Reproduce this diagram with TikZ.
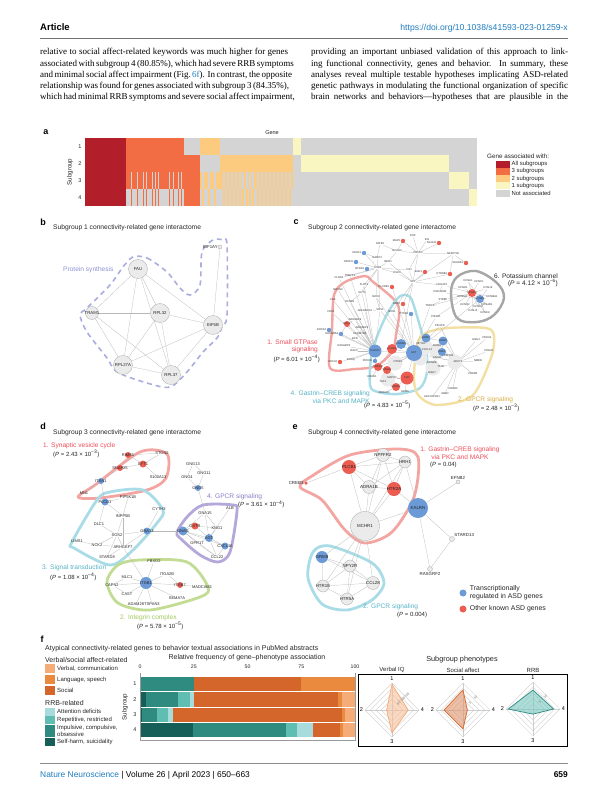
\documentclass[tikz,border=0pt]{standalone}
\usepackage{fontspec}
\setmainfont{Liberation Serif}
\setsansfont{Liberation Sans}
\usepackage{xcolor}
\usepackage{tikz}
\usetikzlibrary{positioning,backgrounds}
\definecolor{allsub}{HTML}{B21F2B}
\definecolor{threesub}{HTML}{F26D44}
\definecolor{twosub}{HTML}{FDCB7F}
\definecolor{onesub}{HTML}{FAF6C2}
\definecolor{notsub}{HTML}{D4D4D4}
\definecolor{asdblue}{HTML}{6B9AD6}
\definecolor{asdred}{HTML}{EC5C51}
\definecolor{linkblue}{HTML}{1F7DC1}
\definecolor{hullpink}{HTML}{F3A5A2}
\definecolor{hullcyan}{HTML}{A9DCE6}
\definecolor{hullsand}{HTML}{F4DFA3}
\definecolor{hullgrey}{HTML}{A6A6A6}
\definecolor{hullviolet}{HTML}{B4A8DA}
\definecolor{hullgreen}{HTML}{C2DD93}
\definecolor{hulllav}{HTML}{A9AEDE}
\definecolor{txtpink}{HTML}{EE4F5A}
\definecolor{txtcyan}{HTML}{56B3C5}
\definecolor{txtsand}{HTML}{D7AE45}
\definecolor{txtviolet}{HTML}{8E7CC8}
\definecolor{txtgreen}{HTML}{A0CA5E}
\definecolor{txtlav}{HTML}{8C91D3}
\definecolor{phverbal}{HTML}{F6AC78}
\definecolor{phlang}{HTML}{E98A3E}
\definecolor{phsocial}{HTML}{D4662C}
\definecolor{phattn}{HTML}{A8DCDC}
\definecolor{phrep}{HTML}{5FBDB2}
\definecolor{phimp}{HTML}{2F8B80}
\definecolor{phself}{HTML}{155F58}
\pgfdeclarelayer{links}
\pgfsetlayers{background,links,main}

\begin{document}
\begin{tikzpicture}[
        x=1pt, y=-1pt,
        every node/.style={inner sep=0pt, font=\sffamily},
        panel/.style={font=\sffamily\bfseries\fontsize{9}{10}\selectfont},
        ptitle/.style={anchor=west, font=\sffamily\fontsize{6.7}{7.5}\selectfont, text=black!85},
        body/.style={anchor=base west, font=\rmfamily\fontsize{9}{11}\selectfont},
        pway/.style={anchor=west, font=\sffamily\fontsize{6.6}{7.4}\selectfont},
        pval/.style={anchor=west, font=\sffamily\fontsize{6}{7}\selectfont, text=black!85},
        small/.style={font=\sffamily\fontsize{5.5}{6.5}\selectfont, text=black!85},
        glab/.style={font=\sffamily\fontsize{4.3}{4.8}\selectfont, text=black!85},
        dlab/.style={font=\sffamily\fontsize{4}{4.4}\selectfont, inner sep=0.4pt, text=black!85},
        elab/.style={font=\sffamily\fontsize{4.4}{4.8}\selectfont, inner sep=0.4pt, text=black!85},
        tinylab/.style={font=\sffamily\fontsize{2.7}{3}\selectfont, inner sep=0.3pt, text=black!80},
        gene/.style={circle, draw=black!32, fill=black!8, line width=0.35pt},
        asdb/.style={circle, fill=asdblue},
        asdr/.style={circle, fill=asdred},
        link/.style={draw=black!28, line width=0.25pt},
        hull/.style={line width=2.4pt, line join=round},
        rlab/.style={font=\sffamily\fontsize{5.5}{6}\selectfont},
        legtext/.style={anchor=west, font=\sffamily\fontsize{6.3}{7.4}\selectfont, text=black!85}
    ]
    \useasboundingbox (0,0) rectangle (602,800);
    \begin{pgfonlayer}{background}
        \fill[white] (0,0) rectangle (602,800);
    \end{pgfonlayer}

    % Running head
    \node[anchor=base west, font=\sffamily\bfseries\fontsize{9.5}{10}\selectfont] (head) at (40,31) {Article};
    \node[anchor=base east, font=\sffamily\fontsize{8.6}{9}\selectfont, text=linkblue] (doi) at (568,31) {https://doi.org/10.1038/s41593-023-01259-x};
    \draw[black!55, line width=0.6pt] (40,38) -- (568,38);

    % Body text
    \node[body] (l1) at (40,55) {\makebox[248pt][s]{relative to social affect-related keywords was much higher for genes}};
    \node[body] (l2) at (40,66.1) {\makebox[248pt][s]{associated with subgroup 4 (80.85\%), which had severe RRB symptoms}};
    \node[body] (l3) at (40,77.2) {\makebox[248pt][s]{and minimal social affect impairment (Fig.~\textcolor{linkblue}{6f}). In contrast, the opposite}};
    \node[body] (l4) at (40,88.3) {\makebox[248pt][s]{relationship was found for genes associated with subgroup 3 (84.35\%),}};
    \node[body] (l5) at (40,99.4) {\makebox[248pt][s]{which had minimal RRB symptoms and severe social affect impairment,}};
    \node[body] (r1) at (311,55) {\makebox[257pt][s]{providing an important unbiased validation of this approach to link-}};
    \node[body] (r2) at (311,66.1) {\makebox[257pt][s]{ing functional connectivity, genes and behavior. In summary, these}};
    \node[body] (r3) at (311,77.2) {\makebox[257pt][s]{analyses reveal multiple testable hypotheses implicating ASD-related}};
    \node[body] (r4) at (311,88.3) {\makebox[257pt][s]{genetic pathways in modulating the functional organization of specific}};
    \node[body] (r5) at (311,99.4) {\makebox[257pt][s]{brain networks and behaviors—hypotheses that are plausible in the}};

    % Panel a: heatmap
    \node[panel] (pa) at (46,132) {a};
    \node[small] (gene) at (272,133) {Gene};
    \fill[notsub] (85,138) rectangle (477,206);
    \fill[allsub] (85,138) rectangle (126,206);
    \fill[threesub] (126,138) rectangle (183.5,189);
    \fill[threesub] (183.5,155) rectangle (200,206);
    \foreach \s in {131,137,143,146,152,155,158,169,173,178,181} {
        \fill[notsub] (\s,172) rectangle ({\s+1},189);
        \fill[threesub] (\s,189) rectangle ({\s+1},206);
    }
    \fill[twosub] (200,138) rectangle (220.4,155);
    \fill[twosub] (220.4,155) rectangle (293,172);
    \fill[twosub] (200,172) rectangle (293,189);
    \foreach \s in {202,208,214,223,227,231,235,239,242,246,249,252,257,261,265,269,273,277,281,285,289} {
        \fill[notsub] (\s,172) rectangle ({\s+1.5},189);
        \fill[twosub] (\s,189) rectangle ({\s+1.5},206);
    }
    \fill[onesub] (293,138) rectangle (300.8,155);
    \fill[onesub] (300.8,155) rectangle (449,172);
    \fill[onesub] (449,172) rectangle (469,189);
    \fill[onesub] (469,189) rectangle (477,206);
    \foreach \r in {1,...,4}
        \node[small] (hrow\r) at (80,{129.5+17*\r}) {\r};
    \node[small, rotate=90, font=\sffamily\fontsize{6.2}{7}\selectfont] (hsub) at (70,172) {Subgroup};
    \node[legtext] (hleg) at (487,156) {Gene associated with:};
    \foreach \i/\c/\t in {1/allsub/All subgroups, 2/threesub/3 subgroups, 3/twosub/2 subgroups, 4/onesub/1 subgroups, 5/notsub/Not associated} {
        \fill[\c] (496,{153.2+7.3*\i}) rectangle (509.5,{160.2+7.3*\i});
        \node[legtext, font=\sffamily\fontsize{5.9}{6.5}\selectfont] (hleg\i) at (511.5,{156.7+7.3*\i}) {\t};
    }

    % Panel b
    \node[panel] (pb) at (43,222) {b};
    \node[ptitle] (tb) at (53,228) {Subgroup 1 connectivity-related gene interactome};
    \foreach \id/\px/\py/\d/\t in {fau/138/269/19/FAU, tram/92/313/13/TRAM1, rpl32/160/313/19/RPL32, eif5b/213/325/19/EIF5B, rpl27a/123/365/19/RPL27A, rpl37/171/375/19/RPL37}
        \node[gene, minimum size=\d pt, label={[glab]center:\t}] (\id) at (\px,\py) {};
    \node[gene, minimum size=4pt, label={[glab]left:EIF1AY}] (eif1ay) at (220,247) {};
    \begin{pgfonlayer}{links}
        \foreach \a/\b in {fau/tram, fau/rpl32, fau/eif5b, fau/rpl27a, fau/rpl37, tram/rpl32, tram/rpl27a, tram/rpl37, rpl32/eif5b, rpl32/rpl27a, rpl32/rpl37, eif5b/rpl27a, eif5b/rpl37, rpl27a/rpl37, eif5b/eif1ay}
            \draw[link] (\a) -- (\b);
    \end{pgfonlayer}
    \begin{pgfonlayer}{background}
        \draw[hulllav, line width=1.6pt, dash pattern=on 5pt off 4pt] plot[smooth cycle, tension=0.5] coordinates {(133,257) (147,258) (167,272) (180,288) (190,295) (200,285) (202,252) (213,240) (223,240) (227,245) (227,315) (222,327) (217,338) (203,352) (187,372) (170,387) (147,383) (117,372) (107,358) (87,332) (80,315) (87,308) (110,285) (123,267)};
    \end{pgfonlayer}
    \node[pway, text=txtlav] (protsyn) at (63,270) {Protein synthesis};

    % Panel c
    \node[panel] (pc) at (296,222) {c};
    \node[ptitle] (tc) at (308,228) {Subgroup 2 connectivity-related gene interactome};
    \foreach \i/\px/\py in {1/425/347, 2/437/352, 3/455/362, 4/433/368, 5/395/363, 6/388/379, 7/420/358}
        \node[gene, draw=none, fill=black!8, minimum size=15pt] (cg\i) at (\px,\py) {};
    \foreach \i/\px/\py/\t in {1/380/244/SATB2, 2/413/236/DSP, 3/427/240/IDS, 4/397/251/NCOA4, 5/377/258/IGFBP3, 6/388/262/NRG1, 7/418/253/PRKD3, 8/453/254/NCKIPSD, 9/409/270/VIL1, 10/378/268/ESR1, 11/397/273/DSC3, 12/413/282/SP1, 13/350/276/TMEFF2, 14/339/278/CLDN1, 15/338/290/NRXN3, 16/364/285/FLRT3, 17/333/300/CSK, 18/331/312/FRS2, 19/362/293/SLIT2, 20/376/297/NOX3, 21/350/302/EFNB1, 22/442/285/NCKAP1, 23/443/300/STRBP, 24/430/306/TNRC6, 25/365/311/ARHGEF10, 26/380/310/SOS1, 27/392/312/NOS1, 28/436/317/PIK3R1, 29/440/326/PIK3CD, 30/355/320/ARHGEF9, 31/362/328/ARHGEF6, 32/360/334/RHOBTB2, 33/355/339/BCR, 34/344/346/RASGRP2, 35/354/351/RAC3, 36/351/360/RHOQ, 37/440/292/PRKAR2B, 38/421/344/NPY1R, 39/427/350/CXCL12, 40/437/346/ADRB2, 41/437/358/GNAI2, 42/432/363/EDNRB, 43/441/367/TSHR, 44/432/373/GNG7, 45/448/356/HCRTR2, 46/398/362/NTSR1, 47/392/378/MAPK3, 48/383/382/TAC1, 49/372/377/CRHR1, 50/384/393/ADRA1D, 51/405/392/GRM5, 52/458/362/ADCY1, 53/487/338/PDE3A, 54/476/340/GNG3, 55/489/351/PDE4C, 56/478/361/NMBR, 57/473/374/PDE8B, 58/453/389/CRHR2, 59/432/397/ADCYAP1R1, 60/445/394/GNB3, 61/468/281/KCNA1, 62/479/282/KCNC1, 63/488/288/KCNJ9, 64/463/288/KCNH1, 65/462/297/KCNS3, 66/492/297/KCNMA1, 67/465/305/KCNQ2, 68/487/305/KCNAB1, 69/473/311/KCNJ3, 70/485/313/KCNK9, 71/478/307/KCNC3}
        \node[tinylab] (ct\i) at (\px,\py) {\t};
    \foreach \id/\px/\py/\d/\c/\t in {b7/375/351/13/asdb/KALRN, b8/401/344/10/asdb/CHRM3, b9/414/353/16/asdb/AKT, b10/426/338/9/asdb/GRM7, b11/443/341/9/asdb/GRM3, b12/442/352/8/asdb/DRD2, b14/480/299/8/asdb/KCNB1, r8/347/324/6/asdr/RAC1, r10/392/349/10/asdr/PLCB1, r11/378/367/8/asdr/PRKCB, r12/387/370/8/asdr/GNAQ, r13/407/378/13/asdr/F2R, r14/396/387/8/asdr/CREB1, r15/472/293/8/asdr/KCND3}
        \node[\c, minimum size=\d pt, label={[tinylab]center:\t}] (c\id) at (\px,\py) {};
    \foreach \id/\px/\py/\c/\t in {b1/364/253/asdb/CDH13, b2/356/262/asdb/NRXN1, b3/367/269/asdb/NTRK2, b4/329/330/asdb/DOCK4, b5/411/314/asdb/PTK2B, b6/341/334/asdb/RAPGEF4, b13/375/361/asdb/PRKCE, r1/403/241/asdr/MAP2, r2/439/243/asdr/NLGN3, r3/466/263/asdr/SHANK2, r4/425/272/asdr/EGR1, r5/450/274/asdr/CTNNB1, r6/392/287/asdr/PLXNB1, r7/403/304/asdr/NRP2, r9/340/362/asdr/CDC42}
        \node[\c, minimum size=4.4pt, label={[tinylab]left:\t}] (c\id) at (\px,\py) {};
    \begin{pgfonlayer}{links}
        \foreach \a/\b in {ct7/ct2, ct7/ct3, ct7/cr1, ct7/cr2, ct7/ct4, ct7/ct8, ct7/ct9, ct7/ct12, ct4/cr1, ct4/ct1, ct4/ct6, ct8/cr3, ct8/ct12, ct8/cr5,
            ct10/ct5, ct10/ct6, ct10/cb1, ct10/cb2, ct10/cb3, ct10/ct13, ct10/ct14, ct10/ct16, ct10/ct11, ct10/ct19, ct10/ct20, ct10/ct9, ct10/ct26,
            ct12/ct9, ct12/ct11, ct12/cr4, ct12/cr5, ct12/ct22, ct12/cr7, ct12/ct27, ct12/cb8, ct12/ct6, ct5/cb1, ct5/ct1,
            cb7/ct15, cb7/ct17, cb7/ct18, cb7/ct19, cb7/ct21, cb7/ct25, cb7/ct26, cb7/ct30, cb7/ct31, cb7/ct32, cb7/ct33, cb7/ct34, cb7/ct35, cb7/ct36, cb7/cr8, cb7/cb6, cb7/cb4, cb7/cr9, cb7/ct16, cb7/ct13, cb7/ct14,
            cr8/ct30, cr8/cb6, ct31/ct32, ct25/ct26, ct19/ct21, ct20/ct26, ct16/ct19,
            cb9/cb7, cb9/cb8, cb9/cr10, cb9/ct26, cb9/ct27, cb9/cb5, cb9/ct28, cb9/ct24, cb9/ct38, cb9/ct39, cb9/cr13, cb9/cr11, cb9/cr12, cb9/ct52, cb9/ct46, cb9/cb10, cb9/ct29, cb9/cr6, cb9/ct20, cb9/cr7,
            ct52/ct53, ct52/ct54, ct52/ct55, ct52/ct56, ct52/ct57, ct52/ct58, ct52/ct59, ct52/ct60, ct52/ct40, ct52/ct41, ct52/ct43, ct52/cb11, ct52/cb12, ct52/ct45,
            cb10/ct38, cb10/cb11, cb11/cb12, cb12/ct41, ct38/ct39, ct39/ct40, ct42/ct44, cb12/ct45, ct41/ct42, ct43/ct44,
            cr13/ct51, cr13/ct47, cr14/ct50, cr14/ct48, cr11/ct49, cr12/cr14, cr13/cr14, cr11/cr12, cr10/cr11, cb13/cb7, cb13/cr11,
            cr15/ct61, cr15/ct62, cr15/ct63, cr15/ct64, cr15/ct65, cr15/ct66, cr15/ct67, cr15/ct68, cr15/ct69, cr15/ct70, cr15/ct71, cb14/ct61, cb14/ct63, cb14/ct66, cb14/ct68, cb14/ct70, cb14/ct71, cr15/cb14,
            ct22/cr15, ct23/cr15, ct37/cb14, ct24/ct65, cb14/cb9, cr15/ct28, ct23/ct24, ct29/ct52, ct22/ct37}
            \draw[link] (\a) -- (\b);
    \end{pgfonlayer}
    \begin{pgfonlayer}{background}
        \draw[hull, hullpink] plot[smooth cycle, tension=0.5] coordinates {(330,368) (332,330) (334,295) (345,282) (365,276) (372,281) (398,305) (396,335) (392,352) (376,366) (355,369)};
        \draw[hull, hullcyan] plot[smooth cycle, tension=0.5] coordinates {(370,385) (372,352) (385,318) (399,297) (410,297) (417,316) (426,350) (427,372) (420,388) (398,394) (378,392)};
        \draw[hull, hullsand] plot[smooth cycle, tension=0.5] coordinates {(414,380) (417,345) (426,333) (448,328) (486,328) (494,336) (491,358) (472,396) (437,405) (419,396)};
        \draw[hull, hullgrey] plot[smooth cycle, tension=0.6] coordinates {(451,293) (457,277) (476,271) (497,283) (504,298) (494,315) (477,322) (457,318)};
    \end{pgfonlayer}
    \node[pway, anchor=east, align=right, text=txtpink] (cgtp) at (318,346) {1. Small GTPase\\signaling};
    \node[pval, anchor=east] (cgtpp) at (320,359) {(\textit{P} = 6.01 × 10\textsuperscript{−4})};
    \node[pway, anchor=east, align=right, text=txtcyan] (ccreb) at (370,397) {4. Gastrin–CREB signaling\\via PKC and MAPK};
    \node[pval] (ccrebp) at (364,405) {(\textit{P} = 4.83 × 10\textsuperscript{−5})};
    \node[pway, text=txtsand] (cgpcr) at (458,400) {2. GPCR signaling};
    \node[pval] (cgpcrp) at (473,408) {(\textit{P} = 2.48 × 10\textsuperscript{−3})};
    \node[pway, anchor=east, align=right, text=black!85] (cpot) at (558,280) {6. Potassium channel\\(\textit{P} = 4.12 × 10\textsuperscript{−6})};

    % Panel d
    \node[panel] (pd) at (43,426) {d};
    \node[ptitle] (td) at (53,433) {Subgroup 3 connectivity-related gene interactome};
    \foreach \id/\px/\py/\t in {ston2/162/453/STON2, s100/158/477/S100A13, mn1/84/493/MN1, pip5k/128/497/PIP5K1B, inpp5b/123/516/INPP5B, dlc1/99/524/DLC1, cyth3/159/509/CYTH3, sos2/117/535/SOS2, lims1/77/541/LIMS1, nck2/97/545/NCK2, arhgef7/123/547/ARHGEF7, stard8/107/557/STARD8, gng13/193/464/GNG13, gng4/187/477/GNG4, gng11/204/473/GNG11, gna15/205/513/GNA15, alb/230/508/ALB, kng1/217/528/KNG1, gpr17/197/543/GPR17, ccl22/217/557/CCL22, fbxo2/154/561/FBXO2, mlc1/127/577/MLC1, itga2b/167/574/ITGA2B, capn2/112/585/CAPN2, madcam1/202/587/MADCAM1, cast/127/594/CAST, sema7a/177/598/SEMA7A, adam28/136/604/ADAM28, tspan3/152/604/TSPAN3}
        \node[dlab] (d\id) at (\px,\py) {\t};
    \foreach \id/\px/\py/\d/\c/\t in {rims1/128/455/6/asdr/RIMS1, snap25/120/468/6/asdr/SNAP25, syt1/143/464/7/asdr/SYT1, itsn1/101/481/6/asdb/ITSN1, plcd1/105/502/7/asdb/PLCD1, gna13/147/531/7/asdb/GNA13, gng5/198/488/6/asdb/GNG5, gnai1/183/531/9/asdb/GNAI1, agt/209/538/8/asdb/AGT, cxcl16/225/546/7/asdb/CXCL16, oxtr/195/526/7/asdr/OXTR, itgb1/146/583/12/asdb/ITGB1, itgb7/180/585/6/asdr/ITGB7}
        \node[\c, minimum size=\d pt, label={[dlab]center:\t}] (d\id) at (\px,\py) {};
    \begin{pgfonlayer}{links}
        \foreach \a/\b in {drims1/dsnap25, drims1/dsyt1, dsnap25/dsyt1, dsyt1/dston2, dsyt1/ds100, drims1/dston2, dsnap25/ditsn1, ditsn1/dmn1, ditsn1/dplcd1, dplcd1/dpip5k, dplcd1/dinpp5b, dplcd1/ddlc1, dpip5k/dinpp5b, dinpp5b/dsos2, dinpp5b/darhgef7, ddlc1/dsos2, dsos2/dgna13, dlims1/dnck2, dnck2/dsos2, dnck2/darhgef7, dsos2/darhgef7, dsos2/dstard8, darhgef7/dstard8, dcyth3/dgna13, dgna13/darhgef7, dgna13/dgnai1, darhgef7/ditgb1, dgng13/dgng4, dgng13/dgng11, dgng4/dgng5, dgng11/dgng5, dgng5/dgna15, dgna15/dgnai1, dgna15/dagt, dgna15/dkng1, dalb/dagt, dkng1/dagt, doxtr/dgnai1, doxtr/dagt, doxtr/dkng1, dgnai1/dagt, dgnai1/dgpr17, dgnai1/dcxcl16, dgnai1/dccl22, dagt/dcxcl16, dagt/dgpr17, dagt/dccl22, dcxcl16/dccl22, dgpr17/dccl22, ditgb1/dfbxo2, ditgb1/dmlc1, ditgb1/ditga2b, ditgb1/dcapn2, ditgb1/dcast, ditgb1/dsema7a, ditgb1/dadam28, ditgb1/dtspan3, ditgb1/ditgb7, ditgb7/ditga2b, ditgb7/dmadcam1, dcapn2/dcast, dmlc1/dcapn2}
            \draw[link] (\a) -- (\b);
    \end{pgfonlayer}
    \begin{pgfonlayer}{background}
        \draw[hull, line width=2.8pt, hullpink] plot[smooth cycle, tension=0.5] coordinates {(78,497) (95,485) (140,452) (167,454) (166,478) (147,490) (100,498)};
        \draw[hull, line width=2.8pt, hullcyan] plot[smooth cycle, tension=0.5] coordinates {(72,542) (97,500) (110,492) (143,490) (163,510) (157,523) (133,550) (110,565) (74,548)};
        \draw[hull, line width=2.8pt, hullviolet] plot[smooth cycle, tension=0.5] coordinates {(177,532) (187,517) (203,505) (233,505) (237,511) (230,552) (218,562) (200,555) (180,538)};
        \draw[hull, line width=2.8pt, hullgreen] plot[smooth cycle, tension=0.5] coordinates {(107,582) (118,565) (140,560) (187,562) (208,587) (200,597) (150,610) (118,603)};
    \end{pgfonlayer}
    \node[pway, text=txtpink] (dsyn) at (43,446) {1. Synaptic vesicle cycle};
    \node[pval] (dsynp) at (53,454) {(\textit{P} = 2.43 × 10\textsuperscript{−3})};
    \node[pway, text=txtviolet] (dgpcr) at (207,497) {4. GPCR signaling};
    \node[pval] (dgpcrp) at (238,504.5) {(\textit{P} = 3.61 × 10\textsuperscript{−4})};
    \node[pway, text=txtcyan] (dsig) at (42,568) {3. Signal transduction};
    \node[pval] (dsigp) at (50,577) {(\textit{P} = 1.08 × 10\textsuperscript{−4})};
    \node[pway, text=txtgreen] (dint) at (120,618) {2. Integrin complex};
    \node[pval] (dintp) at (137,626) {(\textit{P} = 5.78 × 10\textsuperscript{−5})};

    % Panel e
    \node[panel] (pe) at (295,427) {e};
    \node[ptitle] (te) at (308,433) {Subgroup 4 connectivity-related gene interactome};
    \foreach \id/\px/\py/\d/\c/\t in {npffr2/383/455/13/gene/NPFFR2, hrh1/405/462/12/gene/HRH1, eplcb1/349/467/14/asdr/PLCB1, adra1b/369/487/13/gene/ADRA1B, htr2a/394/489/14/asdr/HTR2A, ekalrn/418/508/20/asdb/KALRN, mchr1/365/526/29/gene/MCHR1, grm8/322/557/12/asdb/GRM8, npy2r/350/566/12/gene/NPY2R, htr1e/323/586/12/gene/HTR1E, ccl28/373/583/13/gene/CCL28, htr5a/347/599/12/gene/HTR5A}
        \node[\c, minimum size=\d pt, label={[elab]center:\t}] (\id) at (\px,\py) {};
    \node[asdr, minimum size=3.5pt, label={[elab]left:CREB3}] (creb3) at (306,483) {};
    \node[gene, minimum size=4pt, label={[elab]above:EFNB2}] (efnb2) at (458,482) {};
    \node[gene, minimum size=5pt, label={[elab]above right:STARD13}] (stard13) at (452,539) {};
    \node[gene, minimum size=5pt, label={[elab]below:RASGRF2}] (rasgrf2) at (430,569) {};
    \begin{pgfonlayer}{links}
        \foreach \a/\b in {eplcb1/npffr2, eplcb1/hrh1, eplcb1/adra1b, eplcb1/htr2a, eplcb1/mchr1, eplcb1/creb3, npffr2/hrh1, npffr2/adra1b, npffr2/htr2a, npffr2/mchr1, hrh1/adra1b, hrh1/htr2a, hrh1/mchr1, hrh1/ekalrn, adra1b/htr2a, adra1b/mchr1, htr2a/mchr1, htr2a/ekalrn, mchr1/ekalrn, ekalrn/efnb2, ekalrn/stard13, ekalrn/rasgrf2, stard13/rasgrf2, mchr1/grm8, mchr1/npy2r, mchr1/htr1e, mchr1/ccl28, mchr1/htr5a, grm8/npy2r, grm8/htr1e, grm8/ccl28, npy2r/htr1e, npy2r/ccl28, npy2r/htr5a, htr1e/htr5a, ccl28/htr5a, htr1e/ccl28}
            \draw[link] (\a) -- (\b);
    \end{pgfonlayer}
    \begin{pgfonlayer}{background}
        \draw[hull, line width=2.8pt, hullpink] plot[smooth cycle, tension=0.5] coordinates {(300,487) (312,476) (350,455) (398,449) (418,457) (414,497) (392,532) (365,543) (345,530) (322,500)};
        \draw[hull, line width=2.8pt, hullcyan] plot[smooth cycle, tension=0.5] coordinates {(313,552) (330,546) (372,563) (384,583) (372,600) (347,610) (322,604) (308,578)};
    \end{pgfonlayer}
    \node[pway, anchor=center, align=center, text=txtpink] (ecreb) at (460,453) {1. Gastrin–CREB signaling\\via PKC and MAPK};
    \node[pval] (ecrebp) at (430,465) {(\textit{P} = 0.04)};
    \node[pway, text=txtcyan] (egpcr) at (363,607) {2. GPCR signaling};
    \node[pval] (egpcrp) at (397,615) {(\textit{P} = 0.004)};
    \node[asdb, minimum size=7pt] (legb) at (463,593) {};
    \node[pway, right=3pt of legb, align=left, font=\sffamily\fontsize{6.9}{7.6}\selectfont, text=black!85] (legbt) {Transcriptionally\\regulated in ASD genes};
    \node[asdr, minimum size=7pt] (legr) at (463,609) {};
    \node[pway, right=3pt of legr, font=\sffamily\fontsize{6.9}{7.6}\selectfont, text=black!85] (legrt) {Other known ASD genes};

    % Panel f
    \node[panel] (pf) at (42,639) {f};
    \node[pway, font=\sffamily\fontsize{7}{8}\selectfont, text=black!85] (ftitle) at (45,649) {Atypical connectivity-related genes to behavior textual associations in PubMed abstracts};
    \node[pway, font=\sffamily\fontsize{7}{8}\selectfont, text=black!85] (fverb) at (45,660) {Verbal/social affect-related};
    \node[pway, font=\sffamily\fontsize{7}{8}\selectfont, text=black!85] (frrb) at (45,703) {RRB-related};
    \foreach \i/\c/\ya/\yb/\t in {1/phverbal/664/673/{Verbal, communication}, 2/phlang/675/684/{Language, speech}, 3/phsocial/686/695/Social, 4/phattn/707.5/715.5/Attention deficits, 5/phrep/716/724/{Repetitive, restricted}, 6/phimp/724.5/737/{Impulsive, compulsive,\\obsessive}, 7/phself/738/746/{Self-harm, suicidality}} {
        \fill[\c] (45,\ya) rectangle (54.5,\yb);
        \node[small, anchor=west, align=left, font=\sffamily\fontsize{6}{7.6}\selectfont] (fleg\i) at (57,{(\ya+\yb)/2}) {\t};
    }
    \node[pway, anchor=center, font=\sffamily\fontsize{7}{8}\selectfont, text=black!85] (frel) at (247,658) {Relative frequency of gene–phenotype association};
    \foreach \v in {0,25,50,75,100}
        \node[small, font=\sffamily\fontsize{5.2}{6}\selectfont] (ftick\v) at ({140+2.15*\v},667) {\v};
    \foreach \r/\ya/\yb in {1/677/691, 2/692/707, 3/708/722, 4/723/737}
        \node[small] (frow\r) at (135,{(\ya+\yb)/2}) {\r};
    \node[small, rotate=90, font=\sffamily\fontsize{6.2}{7}\selectfont] (fsub) at (125,707) {Subgroup};
    \foreach \ya/\yb/\a/\b/\c in {677/691/0/25/phimp, 677/691/25/75/phsocial, 677/691/75/100/phlang,
        692/707/0/2.8/phself, 692/707/2.8/17.8/phimp, 692/707/17.8/23.3/phrep, 692/707/23.3/25.3/phattn, 692/707/25.3/92/phsocial, 692/707/92/94/phlang, 692/707/94/100/phverbal,
        708/722/0/1/phself, 708/722/1/7.8/phimp, 708/722/7.8/12.9/phrep, 708/722/12.9/15.2/phattn, 708/722/15.2/94/phsocial, 708/722/94/95.5/phlang, 708/722/95.5/100/phverbal,
        723/737/0/24.5/phself, 723/737/24.5/68/phimp, 723/737/68/73/phrep, 723/737/73/80.6/phattn, 723/737/80.6/93/phsocial, 723/737/93/94.5/phlang, 723/737/94.5/100/phverbal}
        \fill[\c] ({140+2.15*\a},\ya) rectangle ({140+2.15*\b},\yb);
    \draw[black!40, line width=0.5pt] (140,673) -- (140,740) -- (355,740) -- (355,673);

    % Subgroup phenotypes
    \node[pway, anchor=center, font=\sffamily\fontsize{7.3}{8}\selectfont, text=black!85] (fphen) at (462,660) {Subgroup phenotypes};
    \draw[black, line width=0.9pt] (358,674) rectangle (567,746);
    \foreach \id/\cx/\cy/\ttl/\va/\vb/\vc/\vd/\fc/\dc in {viq/392/710/Verbal IQ/0.95/0.2/0.85/0.6/phverbal!75/phverbal, soc/463/710/Social affect/0.74/0.7/0.7/0.16/phsocial!70/phsocial, rrb/533/709/RRB/0.7/0.92/0.19/0.76/phrep!85/phimp} {
        \node[small, font=\sffamily\fontsize{6}{7}\selectfont] (\id-t) at (\cx,670) {\ttl};
        \foreach \k in {1,...,5}
            \draw[black!20, line width=0.35pt] (\cx,{\cy-5.4*\k}) -- ({\cx+5.4*\k},\cy) -- (\cx,{\cy+5.4*\k}) -- ({\cx-5.4*\k},\cy) -- cycle;
        \draw[black!20, line width=0.35pt] (\cx,{\cy-27}) -- (\cx,{\cy+27}) ({\cx-27},\cy) -- ({\cx+27},\cy);
        \filldraw[fill=\fc, fill opacity=0.6, draw=\dc, line width=0.7pt] (\cx,{\cy-27*\va}) -- ({\cx+27*\vd},\cy) -- (\cx,{\cy+27*\vc}) -- ({\cx-27*\vb},\cy) -- cycle;
        \node[rlab] (\id-1) at (\cx,{\cy-31}) {1};
        \node[rlab] (\id-2) at ({\cx-30.5},\cy) {2};
        \node[rlab] (\id-3) at (\cx,{\cy+32}) {3};
        \node[rlab] (\id-4) at ({\cx+30.5},\cy) {4};
    }
    \foreach \id/\cx/\cy/\k/\t in {viq/392/710/2/80, viq/392/710/3.5/100, viq/392/710/5/120, soc/463/710/2/5, soc/463/710/4/10, rrb/533/709/2/5, rrb/533/709/4/10}
        \node[rotate=45, font=\sffamily\fontsize{3.2}{3.5}\selectfont, text=black!55] (\id-k\k) at ({\cx+2.7*\k+1.5},{\cy-2.7*\k-1.5}) {\t};

    % Running foot
    \draw[black!45, line width=0.6pt] (40,763) -- (568,763);
    \node[anchor=base west, font=\sffamily\fontsize{8.4}{9}\selectfont] (foot) at (40,777.5) {\textcolor{linkblue}{Nature Neuroscience} | Volume 26 | April 2023 | 650–663};
    \node[anchor=base east, font=\sffamily\bfseries\fontsize{8.4}{9}\selectfont] (pageno) at (568,777.5) {659};
\end{tikzpicture}
\end{document}
